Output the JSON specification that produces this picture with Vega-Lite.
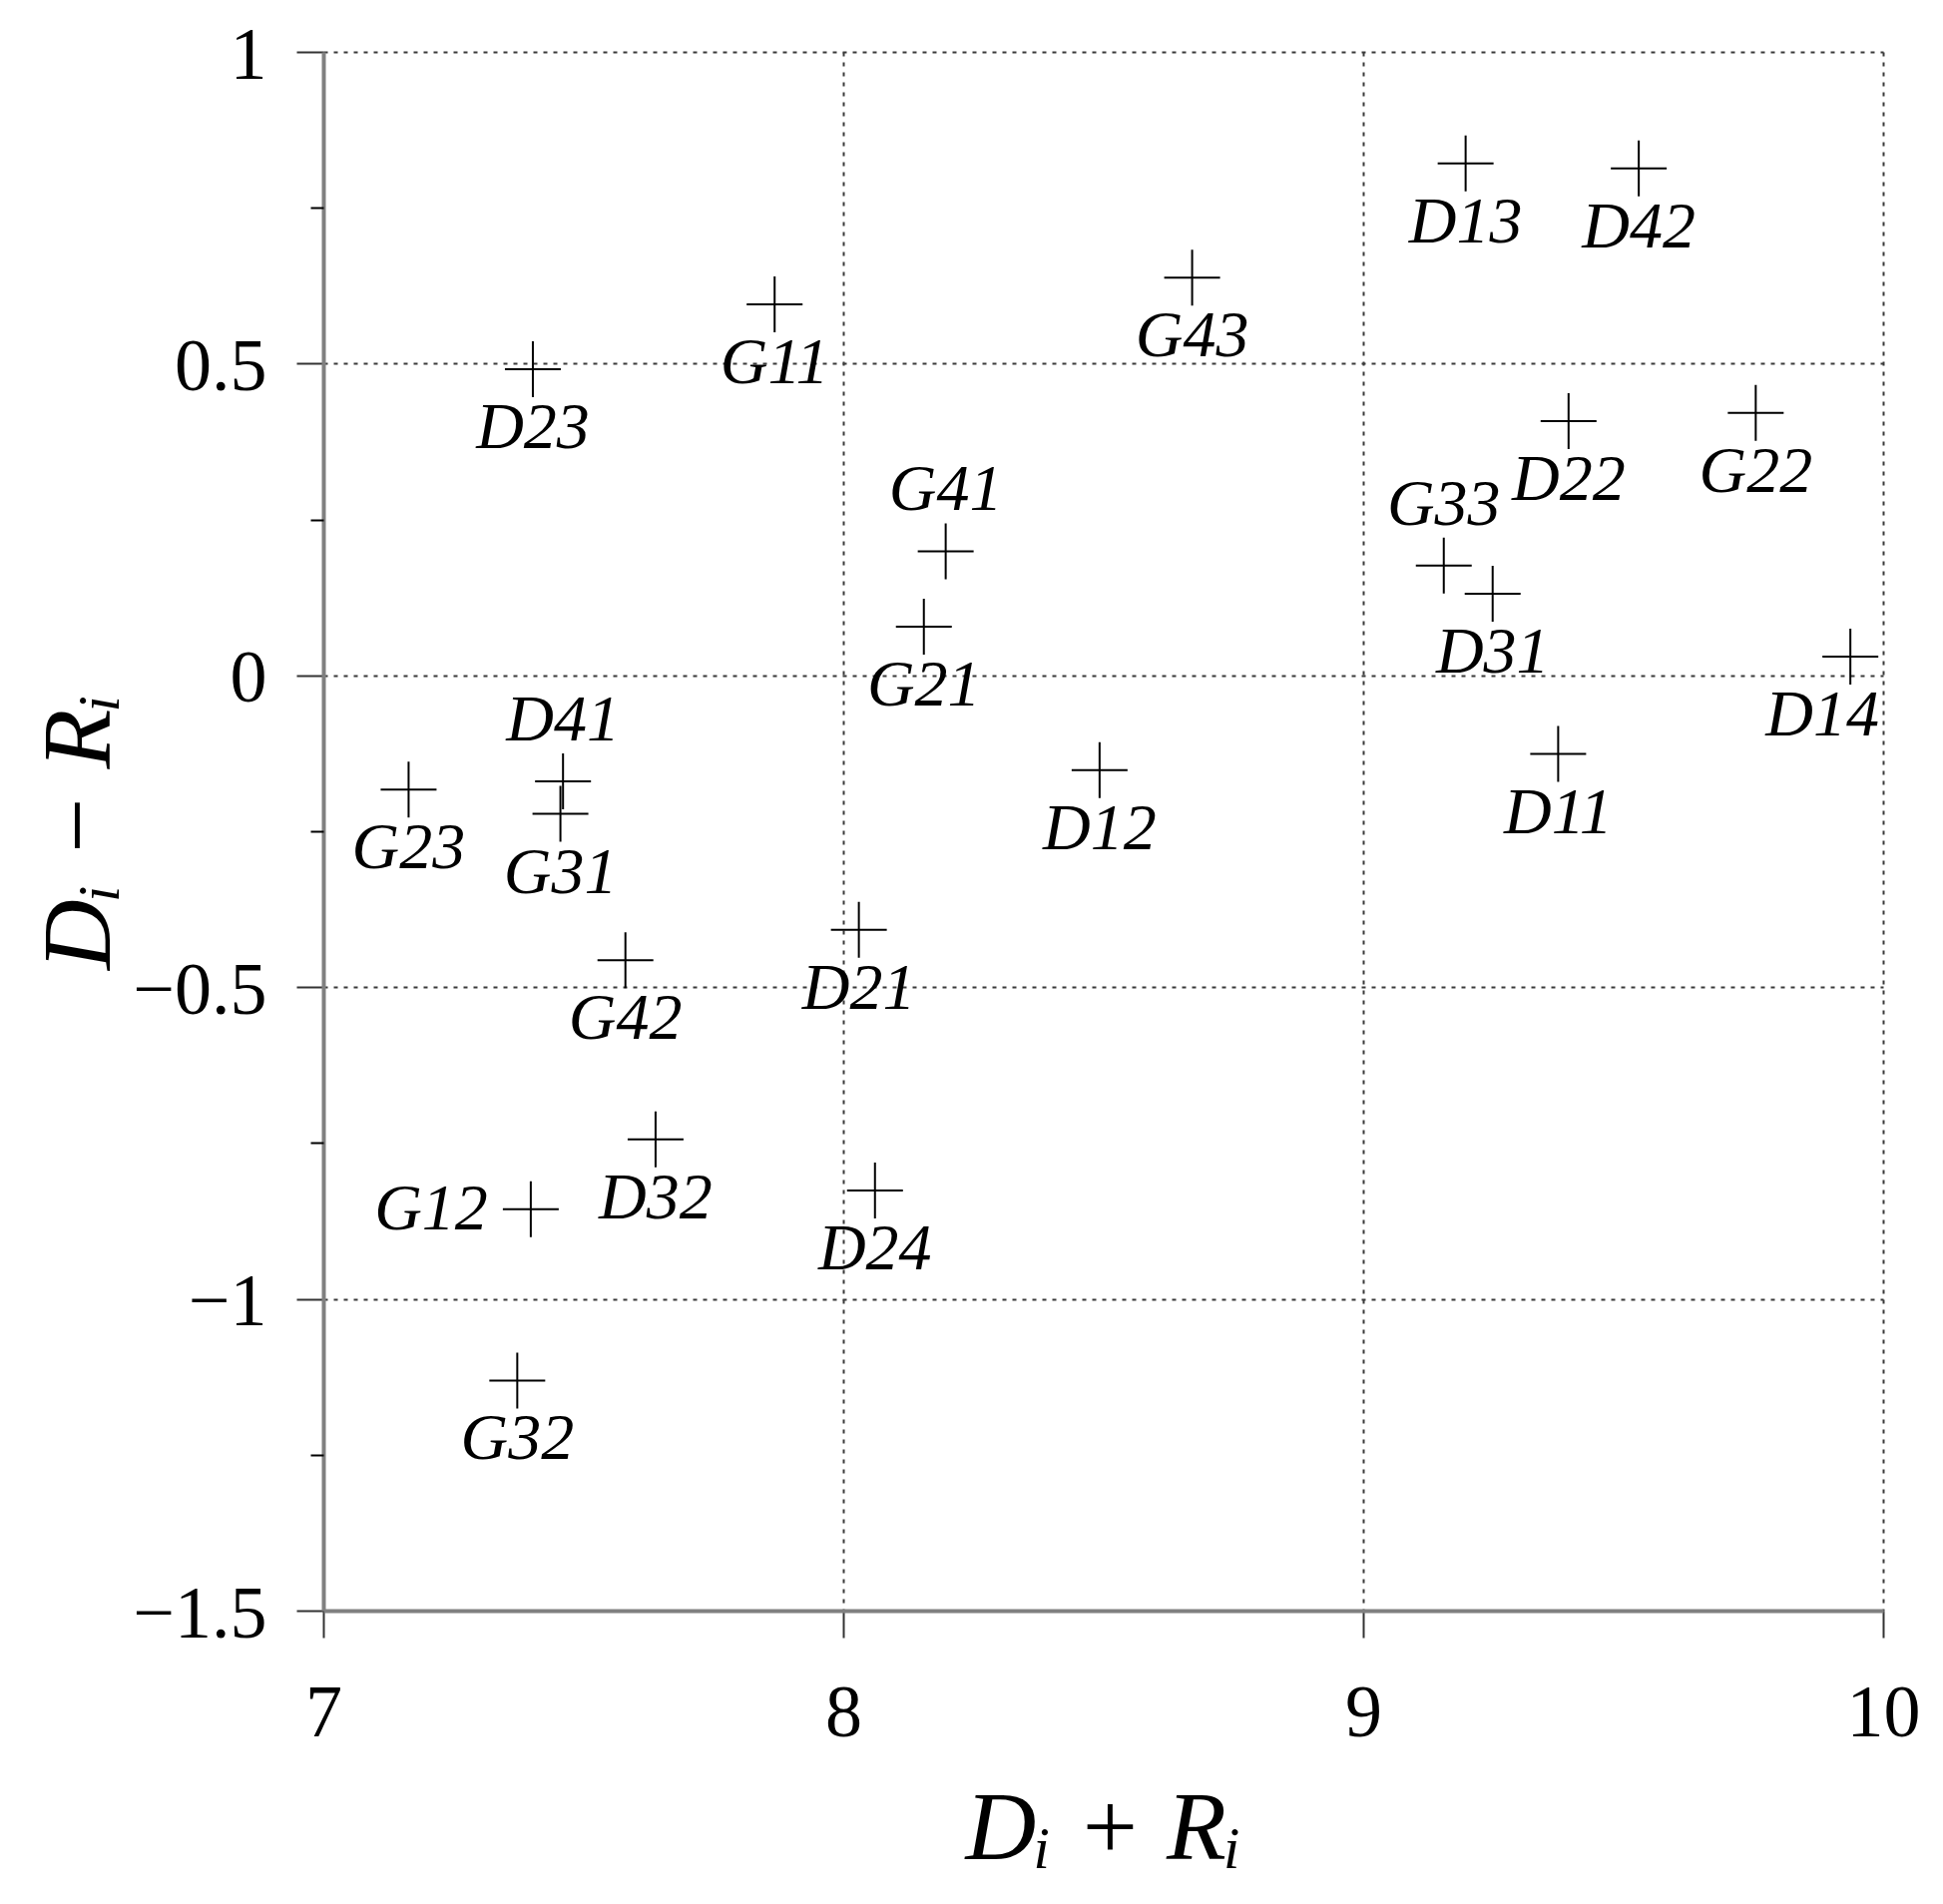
{
  "$schema": "https://vega.github.io/schema/vega-lite/v6.json",
  "autosize": "none",
  "width": 1563,
  "height": 1562,
  "padding": {"left": 324, "top": 52, "right": 60, "bottom": 294},
  "background": "white",
  "data": {
    "values": [
      {"name": "D11", "sum": 9.375, "diff": -0.126},
      {"name": "D12", "sum": 8.493, "diff": -0.152},
      {"name": "D13", "sum": 9.197, "diff": 0.821},
      {"name": "D14", "sum": 9.937, "diff": 0.030},
      {"name": "D21", "sum": 8.030, "diff": -0.408},
      {"name": "D22", "sum": 9.395, "diff": 0.408},
      {"name": "D23", "sum": 7.403, "diff": 0.491},
      {"name": "D24", "sum": 8.061, "diff": -0.826},
      {"name": "D31", "sum": 9.249, "diff": 0.131},
      {"name": "D32", "sum": 7.639, "diff": -0.744},
      {"name": "D41", "sum": 7.461, "diff": -0.170},
      {"name": "D42", "sum": 9.530, "diff": 0.813},
      {"name": "G11", "sum": 7.868, "diff": 0.595},
      {"name": "G12", "sum": 7.399, "diff": -0.856},
      {"name": "G21", "sum": 8.155, "diff": 0.078},
      {"name": "G22", "sum": 9.755, "diff": 0.421},
      {"name": "G23", "sum": 7.164, "diff": -0.183},
      {"name": "G31", "sum": 7.456, "diff": -0.222},
      {"name": "G32", "sum": 7.373, "diff": -1.131},
      {"name": "G33", "sum": 9.155, "diff": 0.176},
      {"name": "G41", "sum": 8.197, "diff": 0.199},
      {"name": "G42", "sum": 7.581, "diff": -0.457},
      {"name": "G43", "sum": 8.671, "diff": 0.638}
    ]
  },
  "encoding": {
    "x": {
      "field": "sum", "type": "quantitative",
      "scale": {"domain": [7, 10], "nice": false, "zero": false},
      "axis": {"values": [7, 8, 9, 10], "format": "~r", "title": "Dᵢ + Rᵢ"}
    }
  },
  "resolve": {"axis": {"y": "independent"}},
  "layer": [
    {
      "mark": {"type": "point", "shape": "M-1,0H1M0,-1V1", "filled": false, "stroke": "black", "strokeWidth": 2, "opacity": 1, "size": 3136},
      "encoding": {
        "y": {
          "field": "diff", "type": "quantitative",
          "scale": {"domain": [-1.5, 1], "nice": false, "zero": false},
          "axis": {"values": [-1.5, -1, -0.5, 0, 0.5, 1], "format": "~r", "title": "Dᵢ − Rᵢ", "orient": "left"}
        }
      }
    },
    {
      "transform": [{"filter": {"not": {"field": "name", "oneOf": ["D41", "G41", "G33", "G12", "D14"]}}}],
      "mark": {"type": "text", "font": "Liberation Serif", "fontStyle": "italic", "fontSize": 66, "align": "center", "baseline": "alphabetic", "dy": 79, "color": "black"},
      "encoding": {
        "y": {
          "field": "diff", "type": "quantitative",
          "axis": {"orient": "left", "values": [0.75, 0.25, -0.25, -0.75, -1.25], "labels": false, "grid": false, "domain": false, "tickSize": 13, "tickColor": "black", "title": null}
        },
        "text": {"field": "name"}
      }
    },
    {
      "transform": [{"filter": {"field": "name", "oneOf": ["D14"]}}],
      "mark": {"type": "text", "font": "Liberation Serif", "fontStyle": "italic", "fontSize": 66, "align": "center", "baseline": "alphabetic", "dx": -28, "dy": 79, "color": "black"},
      "encoding": {
        "y": {"field": "diff", "type": "quantitative", "axis": null},
        "text": {"field": "name"}
      }
    },
    {
      "transform": [{"filter": {"field": "name", "oneOf": ["D41", "G41", "G33"]}}],
      "mark": {"type": "text", "font": "Liberation Serif", "fontStyle": "italic", "fontSize": 66, "align": "center", "baseline": "alphabetic", "dy": -41, "color": "black"},
      "encoding": {
        "y": {"field": "diff", "type": "quantitative", "axis": null},
        "text": {"field": "name"}
      }
    },
    {
      "transform": [{"filter": {"field": "name", "oneOf": ["G12"]}}],
      "mark": {"type": "text", "font": "Liberation Serif", "fontStyle": "italic", "fontSize": 66, "align": "right", "baseline": "alphabetic", "dx": -43, "dy": 20, "color": "black"},
      "encoding": {
        "y": {"field": "diff", "type": "quantitative", "axis": null},
        "text": {"field": "name"}
      }
    }
  ],
  "config": {
    "view": {"stroke": null},
    "axis": {
      "domainColor": "#808080",
      "domainWidth": 4,
      "tickColor": "#333333",
      "tickWidth": 2,
      "tickSize": 27,
      "labelFont": "Liberation Serif",
      "labelFontSize": 74,
      "labelColor": "black",
      "labelFlush": false,
      "labelOverlap": false,
      "grid": true,
      "gridColor": "#3a3a3a",
      "gridDash": [4, 6],
      "gridWidth": 2,
      "titleFont": "Liberation Serif",
      "titleFontStyle": "italic",
      "titleFontWeight": "normal",
      "titleFontSize": 98,
      "titleColor": "black"
    },
    "axisX": {
      "labelPadding": 40,
      "titleX": 781.5,
      "titleY": 248,
      "titleBaseline": "alphabetic",
      "titleAlign": "center"
    },
    "axisY": {
      "labelPadding": 30,
      "labelOffset": 4,
      "titleX": -215,
      "titleY": 781,
      "titleAngle": 270,
      "titleBaseline": "alphabetic",
      "titleAlign": "center"
    }
  }
}
